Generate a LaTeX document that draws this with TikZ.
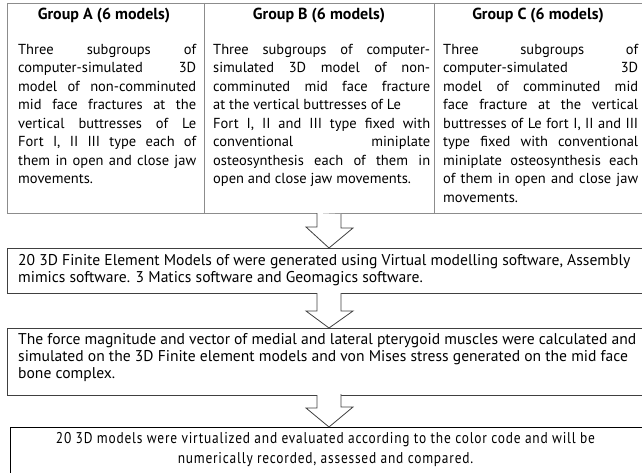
\documentclass[tikz,border=0pt]{standalone}
\usepackage{fontspec}
\setmainfont{PT Sans}
\newfontfamily\narrowfont[FakeStretch=0.86,LetterSpace=5]{PT Sans}
\newcommand{\nohyph}{\hyphenpenalty=10000 \exhyphenpenalty=10000\relax}
\begin{document}
\begin{tikzpicture}[x=1pt,y=-1pt,
  tblline/.style={draw=black!45, line width=0.9pt},
  boxline/.style={draw=black!75, line width=0.8pt},
  lastline/.style={draw=black, line width=0.9pt},
  arr/.style={draw=black!75, line width=0.8pt, fill=white, line join=miter},
  hdr/.style={font=\fontsize{16}{18.5}\selectfont\bfseries, inner sep=0pt, anchor=center},
  cell/.style={font=\fontsize{14.5}{18.5}\selectfont\nohyph,
     align=justify, inner sep=0pt, anchor=north west},
  wide/.style={font=\fontsize{15.6}{17}\selectfont\nohyph,
     align=justify, inner sep=0pt, anchor=north west, text width=618pt},
]
\useasboundingbox (0,0) rectangle (642,473);
\clip (0,0) rectangle (642,473);

% table
\draw[tblline] (7,3) rectangle (660,213);
\draw[tblline] (204,3) -- (204,213);
\draw[tblline] (434,3) -- (434,213);
\coordinate (tblbot) at (329,213);

\node[hdr] (hA) at (104,16) {Group A (6 models)};
\node[hdr] (hB) at (319,16) {Group B (6 models)};
\node[hdr] (hC) at (538,16) {Group C (6 models)};

\node[cell, text width=178pt] (cA) at (18,44) {Three subgroups of\linebreak
computer-simulated 3D\linebreak
model of non-comminuted\linebreak
mid face fractures at the\linebreak
vertical buttresses of Le\linebreak
Fort I, II III type each of\linebreak
them in open and close jaw\linebreak
movements.};

\node[cell, text width=217pt] (cB) at (213,44) {Three subgroups of computer-\linebreak
simulated 3D model of non-\linebreak
comminuted mid face fracture\linebreak
at the vertical buttresses of Le\newline
Fort I, II and III type fixed with\linebreak
conventional miniplate\linebreak
osteosynthesis each of them in\linebreak
open and close jaw movements.};

\node[cell, text width=195pt] (cC) at (443,44) {Three subgroups of\linebreak
computer-simulated 3D\linebreak
model of comminuted mid\linebreak
face fracture at the vertical\linebreak
buttresses of Le fort I, II and III\linebreak
type fixed with conventional\linebreak
miniplate osteosynthesis each\linebreak
of them in open and close jaw\linebreak
movements.};

% box 2
\draw[boxline] (7,248) rectangle (660,293);
\coordinate (b2top) at (329,248);
\coordinate (b2bot) at (329,293);
\node[wide] (t2) at (18,254) {20 3D Finite Element Models of were generated using Virtual modelling software, Assembly\newline
mimics software. 3 Matics software and Geomagics software.};

% box 3
\draw[boxline] (7,328) rectangle (660,395);
\coordinate (b3top) at (329,328);
\coordinate (b3bot) at (329,395);
\node[wide] (t3) at (18,333) {The force magnitude and vector of medial and lateral pterygoid muscles were calculated and\newline
simulated on the 3D Finite element models and von Mises stress generated on the mid face\newline
bone complex.};

% box 4
\draw[lastline] (10,427) rectangle (660,480);
\coordinate (b4top) at (329,427);
\node[font=\narrowfont\fontsize{15.6}{20}\selectfont, align=center, inner sep=0pt] (t4) at (325.5,450)
 {20 3D models were virtualized and evaluated according to the color code and will be\\
 numerically recorded, assessed and compared.};

% block arrows
\draw[arr] (tblbot) ++(-12,0) -- ++(0,14) -- ++(-11,0) -- (b2top) -- ++(24,-20) -- ++(-12,0) -- ++(0,-14);
\draw[arr] (b2bot) ++(-12,0) -- ++(0,18) -- ++(-11,0) -- (b3top) -- ++(24,-17) -- ++(-12,0) -- ++(0,-18);
\draw[arr] (b3bot) ++(-12,0) -- ++(0,13) -- ++(-11,0) -- (b4top) -- ++(24,-20) -- ++(-12,0) -- ++(0,-13);
\end{tikzpicture}
\end{document}
